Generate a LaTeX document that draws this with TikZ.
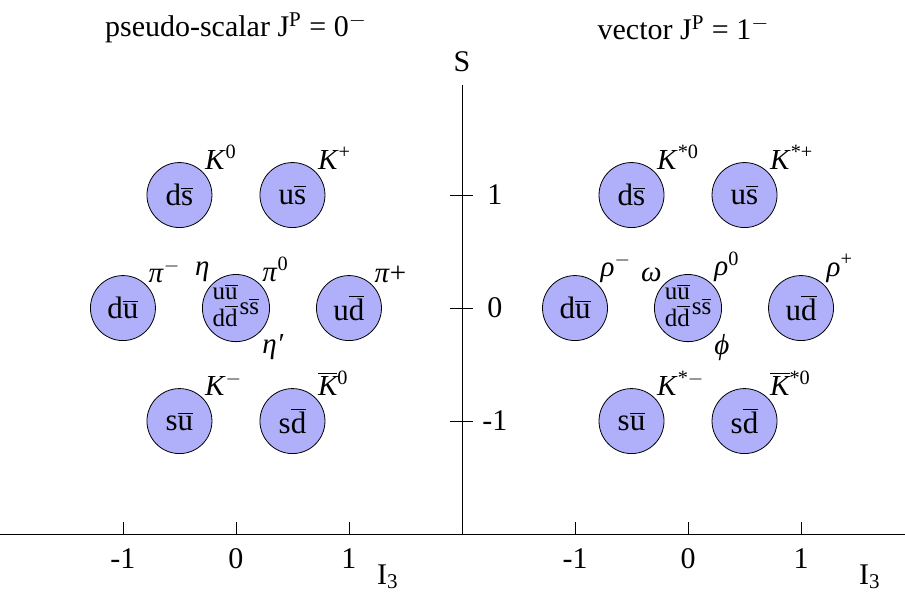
\documentclass[tikz,border=0pt]{standalone}
\usepackage{fontspec}
\setmainfont{Liberation Serif}
\usetikzlibrary{positioning}
\definecolor{mesonfill}{RGB}{176,176,250}
\newcommand{\qb}[1]{$\overline{\mbox{#1}}$}
\newcommand{\pt}[2]{\textit{#1}\textsuperscript{#2}}
\newcommand{\mi}{$-$}
\newcommand{\mix}{{\def\arraystretch{0.75}\begin{tabular}{@{}c@{}}u\qb{u}\\d\qb{d}\end{tabular}}\hspace{1pt}s\qb{s}}

\begin{document}
\begin{tikzpicture}[x=56.5pt,y=56.5pt,
  meson/.style={circle,draw,fill=mesonfill,minimum size=32.5pt,inner sep=0pt,font=\fontsize{15.5}{17}\selectfont},
  mixed/.style={meson,font=\fontsize{12.5}{13}\selectfont},
  tag/.style={font=\fontsize{14.5}{16}\selectfont,inner sep=1pt},
  every label/.style={tag},
  axislabel/.style={font=\fontsize{15}{17}\selectfont,inner sep=1pt}]
\useasboundingbox (-4.088,-2.558) rectangle (3.920,2.726);
% axes
\draw (-4.09,-2) -- (3.92,-2);
\draw (0,-2) -- (0,1.97);
\node[axislabel] (S) at (0,2.18) {S};
\foreach \y in {-1,0,1}{
  \draw (-0.11,\y) -- (0.1,\y);
  \node[axislabel] at (0.29,\y) {\y};
}
\foreach \x in {-1,0,1}{
  \draw (\x-2,-2) -- ++(0,0.11);
  \draw (\x+2,-2) -- ++(0,0.11);
  \node[axislabel] at (\x-2,-2.22) {\x};
  \node[axislabel] at (\x+2,-2.22) {\x};
}
\node[axislabel] (iL) at (-0.655,-2.38) {I\textsubscript{3}};
\node[axislabel] (iR) at (3.61,-2.38) {I\textsubscript{3}};
% pseudo-scalar nonet
\node[axislabel] (psTitle) at (-2,2.48) {pseudo-scalar J\textsuperscript{P} = 0\textsuperscript{\mi}};
\node[meson,label={45:\pt{K}{0}}] (ds) at (-2.5,1) {d\qb{s}};
\node[meson,label={45:\pt{K}{+}}] (us) at (-1.5,1) {u\qb{s}};
\node[meson,label={45:\pt{π}{\mi}}] (du) at (-3,0) {d\qb{u}};
\node[mixed,label={135:\textit{η}},label={45:\pt{π}{0}},label={-45:\textit{η′}}] (uu) at (-2,0) {\mix};
\node[meson,label={45:\textit{π}+}] (ud) at (-1,0) {u\qb{d}};
\node[meson,label={45:\pt{K}{\mi}}] (su) at (-2.5,-1) {s\qb{u}};
\node[meson,label={45:\pt{\qb{K}}{0}}] (sd) at (-1.5,-1) {s\qb{d}};
% vector nonet
\node[axislabel] (vTitle) at (1.96,2.48) {vector J\textsuperscript{P} = 1\textsuperscript{\mi}};
\node[meson,label={45:\pt{K}{*0}}] (vds) at (1.5,1) {d\qb{s}};
\node[meson,label={45:\pt{K}{*+}}] (vus) at (2.5,1) {u\qb{s}};
\node[meson,label={45:\pt{ρ}{\mi}}] (vdu) at (1,0) {d\qb{u}};
\node[mixed,label={135:\textit{ω}},label={45:\pt{ρ}{0}},label={-45:\textit{ϕ}}] (vuu) at (2,0) {\mix};
\node[meson,label={45:\pt{ρ}{+}}] (vud) at (3,0) {u\qb{d}};
\node[meson,label={45:\pt{K}{*\mi}}] (vsu) at (1.5,-1) {s\qb{u}};
\node[meson,label={45:\pt{\qb{K}}{*0}}] (vsd) at (2.5,-1) {s\qb{d}};
\end{tikzpicture}
\end{document}
